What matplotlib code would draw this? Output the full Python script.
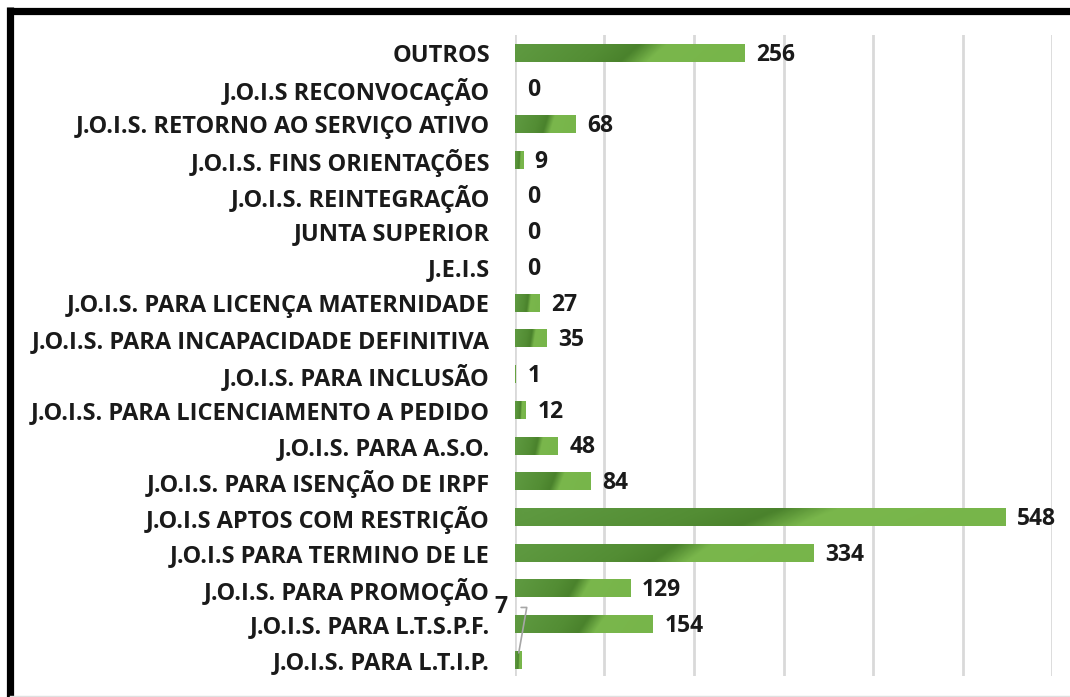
import numpy as np
import matplotlib.pyplot as plt
from matplotlib.colors import LinearSegmentedColormap
from matplotlib.lines import Line2D

plt.rcParams['font.family'] = ['Open Sans', 'DejaVu Sans']

# categorias de baixo para cima
categorias = [
    'J.O.I.S. PARA L.T.I.P.',
    'J.O.I.S. PARA L.T.S.P.F.',
    'J.O.I.S. PARA PROMOÇÃO',
    'J.O.I.S PARA TERMINO DE LE',
    'J.O.I.S APTOS COM RESTRIÇÃO',
    'J.O.I.S. PARA ISENÇÃO DE IRPF',
    'J.O.I.S. PARA A.S.O.',
    'J.O.I.S. PARA LICENCIAMENTO A PEDIDO',
    'J.O.I.S. PARA INCLUSÃO',
    'J.O.I.S. PARA INCAPACIDADE DEFINITIVA',
    'J.O.I.S. PARA LICENÇA MATERNIDADE',
    'J.E.I.S',
    'JUNTA SUPERIOR',
    'J.O.I.S. REINTEGRAÇÃO',
    'J.O.I.S. FINS ORIENTAÇÕES',
    'J.O.I.S. RETORNO AO SERVIÇO ATIVO',
    'J.O.I.S RECONVOCAÇÃO',
    'OUTROS',
]
valores = [7, 154, 129, 334, 548, 84, 48, 12, 1, 35, 27, 0, 0, 0, 9, 68, 0, 256]
marcas_x = [0, 100, 200, 300, 400, 500, 600]

fig = plt.figure(figsize=(10.7, 6.97), dpi=100)
ax = fig.add_axes([0.4813, 0.0301, 0.5019, 0.9197])

cmap = LinearSegmentedColormap.from_list('verde', [
    (0.0, '#5e9940'), (0.35, '#538d34'), (0.5, '#4a822c'),
    (0.62, '#7ab74c'), (1.0, '#77b54a')])

altura = 0.5
y = np.arange(len(categorias))
for yi, v in zip(y, valores):
    if v <= 0:
        continue
    gx, gy = np.meshgrid(np.linspace(0, 1, 200), np.linspace(0, 1, 10))
    grad = np.clip(gx + 0.08 * (gy - 0.5), 0, 1)
    ax.imshow(grad, cmap=cmap, aspect='auto', interpolation='bilinear',
              extent=[0, v, yi - altura / 2, yi + altura / 2], zorder=2)

ax.barh(y, valores, height=altura, color='none', edgecolor='none', zorder=3)

for yi, v in zip(y, valores):
    if yi == 0:
        continue
    ax.text(v + 13, yi - 0.05, str(v), va='center', ha='left', fontsize=16.5,
            fontweight='bold', color='#1a1a1a')

# rótulo do primeiro item com linha de chamada
ax.annotate(str(valores[0]), xy=(valores[0] * 0.6, 0.2), xytext=(-16, 1.47),
            fontsize=16.5, fontweight='bold', color='#1a1a1a', ha='center', va='center',
            annotation_clip=False,
            arrowprops=dict(arrowstyle='-', color='#a6a6a6', lw=1.2,
                            connectionstyle='angle,angleA=0,angleB=80,rad=0',
                            shrinkA=8, shrinkB=0))

ax.set_xlim(0, 600)
ax.set_ylim(-0.45, 17.5)
ax.set_xticks(marcas_x)
ax.set_xticklabels([])
ax.tick_params(axis='x', length=0)
ax.set_yticks(y)
ax.set_yticklabels(categorias, fontsize=17, fontweight='bold', color='#1a1a1a')
ax.tick_params(axis='y', length=0, pad=18)
ax.grid(axis='x', color='#d9d9d9', lw=2, zorder=0)
ax.set_axisbelow(True)
for s in ax.spines.values():
    s.set_visible(False)

# moldura
W, H = 1070, 697
fig.add_artist(Line2D([7 / W, 1], [1 - 10.5 / H] * 2, color='black', lw=5.2,
                      solid_capstyle='butt'))
fig.add_artist(Line2D([10 / W] * 2, [0, 1 - 7 / H], color='black', lw=5.2,
                      solid_capstyle='butt'))
fig.add_artist(Line2D([10 / W, 1], [1 - 695.5 / H] * 2, color='#e0e0e0', lw=1))

fig.savefig('out.png', dpi=100)
